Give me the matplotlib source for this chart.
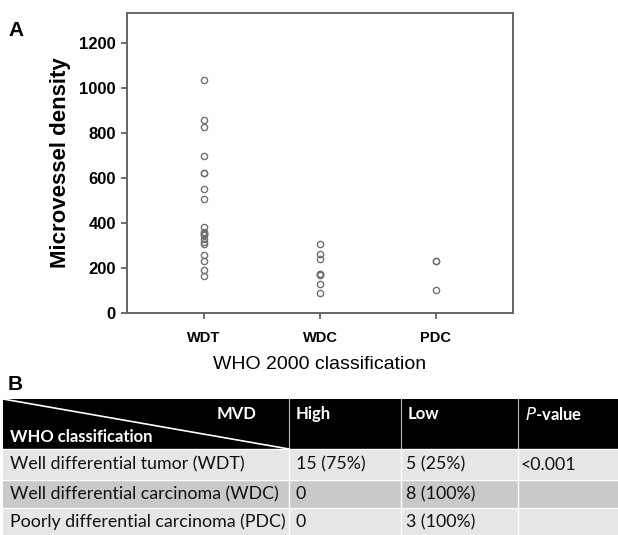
import numpy as np
import matplotlib
matplotlib.use("Agg")
import matplotlib.pyplot as plt
from matplotlib.patches import Rectangle

# panel A data: microvessel density per group
groups = ["WDT", "WDC", "PDC"]
wdt_mvd = [1034, 857, 825, 697, 621, 621, 551, 508, 384, 360, 355, 350,
           345, 330, 315, 305, 258, 233, 189, 163]
wdc_mvd = [307, 263, 240, 174, 174, 170, 130, 87]
pdc_mvd = [233, 233, 100]
y_ticks = [0, 200, 400, 600, 800, 1000, 1200]

# panel B table
col_headers = ["High", "Low", "$\\it{P}$-value"]
row_labels = ["Well differential tumor (WDT)",
              "Well differential carcinoma (WDC)",
              "Poorly differential carcinoma (PDC)"]
high_col = ["15 (75%)", "0", "0"]
low_col = ["5 (25%)", "8 (100%)", "3 (100%)"]
p_col = ["<0.001", "", ""]

W, H = 618, 535
fig = plt.figure(figsize=(W / 100, H / 100), dpi=100)

# ---- panel A ----
ax = fig.add_axes([127 / W, 1 - 313 / H, 386 / W, 300 / H])
for i, vals in enumerate([wdt_mvd, wdc_mvd, pdc_mvd]):
    ax.plot(np.full(len(vals), i + 1), vals, "o", ms=4.5, mfc="none",
            mec="#707070", mew=1.0, ls="none")
ax.set_xlim(0.336, 3.664)
ax.set_ylim(0, 1333)
ax.set_xticks([1, 2, 3])
ax.set_xticklabels(groups, fontsize=10.5, fontweight="bold",
                   family="Liberation Sans")
ax.set_yticks(y_ticks)
ax.set_yticklabels([str(t) for t in y_ticks], fontsize=12,
                   fontweight="bold", family="Liberation Sans")
ax.tick_params(axis="both", direction="out", length=4, width=1.2,
               color="#555555", pad=4)
ax.tick_params(axis="x", pad=9)
for s in ax.spines.values():
    s.set_color("#666666")
    s.set_linewidth(1.4)
ax.set_ylabel("Microvessel density", fontsize=16, fontweight="bold",
              family="Liberation Sans", labelpad=6)
ax.set_xlabel("WHO 2000 classification", fontsize=14,
              family="Liberation Sans", labelpad=8)
fig.text(8 / W, 1 - 30 / H, "A", fontsize=15, fontweight="bold",
         family="Liberation Sans", va="center", ha="left")
fig.text(8 / W, 1 - 384 / H, "B", fontsize=15, fontweight="bold",
         family="Liberation Sans", va="center", ha="left")

# ---- panel B: table drawn in pixel coordinates ----
tx = fig.add_axes([0, 0, 1, 1 - 399 / H])
tx.set_xlim(0, W)
tx.set_ylim(H, 399)
tx.axis("off")

col_x = [3, 289, 401, 518, W]
row_y = [399, 449, 480, 508, H]
row_colors = ["#e6e6e6", "#c9c9c9", "#e6e6e6"]

tx.add_patch(Rectangle((col_x[0], row_y[0]), W - col_x[0], row_y[1] - row_y[0],
                       fc="black", ec="none"))
for r in range(3):
    tx.add_patch(Rectangle((col_x[0], row_y[r + 1]), W - col_x[0],
                           row_y[r + 2] - row_y[r + 1],
                           fc=row_colors[r], ec="none"))
for r in range(1, 4):
    tx.plot([col_x[0], W], [row_y[r], row_y[r]], color="white", lw=1)
for c in range(1, 4):
    tx.plot([col_x[c], col_x[c]], [row_y[0], row_y[1]], color="#bbbbbb", lw=0.8)
    tx.plot([col_x[c], col_x[c]], [row_y[1], H], color="white", lw=1)
tx.plot([col_x[0], col_x[1]], [row_y[0], row_y[1]], color="white", lw=1.2)

font = "Lato"
tx.text(257, 414, "MVD", color="white", fontsize=12, fontweight="bold",
        family=font, ha="right", va="center")
tx.text(10, 437, "WHO classification", color="white", fontsize=12,
        fontweight="bold", family=font, ha="left", va="center")
for c, h in enumerate(col_headers):
    tx.text(col_x[c + 1] + 7, 414, h, color="white", fontsize=12,
            fontweight="bold", family=font, ha="left", va="center")
for r in range(3):
    yc = (row_y[r + 1] + row_y[r + 2]) / 2
    if r == 2:
        yc = 522
    vals = [row_labels[r], high_col[r], low_col[r], p_col[r]]
    xs = [10, col_x[1] + 7, col_x[2] + 5, col_x[3] + 3]
    for x, v in zip(xs, vals):
        tx.text(x, yc, v, color="#111111", fontsize=12.8, family=font,
                ha="left", va="center")

fig.savefig("out.png", dpi=100)
